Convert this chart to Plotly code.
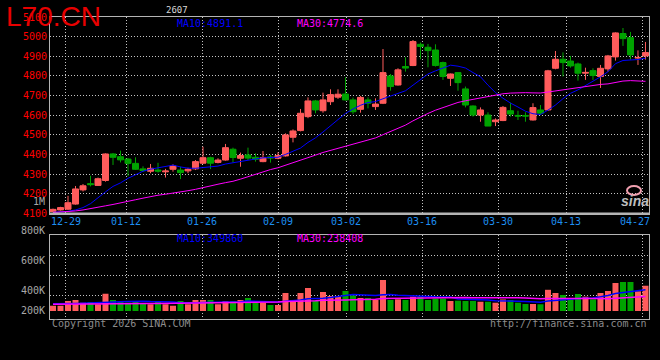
import plotly.graph_objects as go

# ---------------- data ----------------
dates = ["12-25", "12-26", "12-29", "12-30", "12-31",
         "01-05", "01-06", "01-07", "01-08", "01-09",
         "01-12", "01-13", "01-14", "01-15", "01-16",
         "01-19", "01-20", "01-21", "01-22", "01-23",
         "01-26", "01-27", "01-28", "01-29", "01-30",
         "02-02", "02-03", "02-04", "02-05", "02-06",
         "02-09", "02-10", "02-11", "02-12", "02-13",
         "02-24", "02-25", "02-26", "02-27",
         "03-02", "03-03", "03-04", "03-05", "03-06",
         "03-09", "03-10", "03-11", "03-12", "03-13",
         "03-16", "03-17", "03-18", "03-19", "03-20",
         "03-23", "03-24", "03-25", "03-26", "03-27",
         "03-30", "03-31", "04-01", "04-02", "04-03",
         "04-07", "04-08", "04-09", "04-10",
         "04-13", "04-14", "04-15", "04-16", "04-17",
         "04-20", "04-21", "04-22", "04-23", "04-24",
         "04-27", "04-28"]

opens = [4110, 4118, 4122, 4148, 4220, 4252, 4243, 4268, 4403, 4389,
         4377, 4355, 4327, 4315, 4321, 4312, 4325, 4321, 4317, 4327,
         4356, 4384, 4360, 4372, 4427, 4381, 4398, 4386, 4364, 4388,
         4381, 4393, 4488, 4522, 4593, 4673, 4623, 4669, 4692, 4708,
         4678, 4630, 4678, 4644, 4661, 4800, 4754, 4848, 4853, 4961,
         4946, 4932, 4868, 4788, 4817, 4734, 4647, 4601, 4601, 4567,
         4573, 4623, 4599, 4599, 4576, 4627, 4627, 4839, 4885, 4876,
         4861, 4814, 4827, 4797, 4836, 4897, 5016, 4995, 4891, 4902]
highs = [4125, 4134, 4190, 4240, 4250, 4292, 4283, 4406, 4408, 4420,
         4382, 4386, 4340, 4352, 4358, 4327, 4350, 4338, 4333, 4372,
         4440, 4389, 4381, 4454, 4435, 4410, 4435, 4406, 4418, 4398,
         4411, 4508, 4528, 4632, 4691, 4678, 4715, 4732, 4732, 4793,
         4690, 4698, 4691, 4686, 4937, 4810, 4839, 4895, 4983, 4970,
         4963, 4961, 4873, 4812, 4820, 4746, 4650, 4640, 4615, 4584,
         4647, 4664, 4623, 4615, 4661, 4652, 4831, 4927, 4920, 4902,
         4868, 4842, 4839, 4856, 4907, 5022, 5044, 5024, 4930, 4973]
lows = [4106, 4115, 4118, 4145, 4212, 4238, 4240, 4262, 4347, 4360,
        4290, 4322, 4312, 4305, 4308, 4283, 4313, 4275, 4305, 4321,
        4352, 4326, 4355, 4369, 4359, 4338, 4372, 4364, 4361, 4359,
        4376, 4390, 4462, 4518, 4585, 4610, 4613, 4652, 4683, 4675,
        4607, 4613, 4635, 4627, 4657, 4725, 4751, 4822, 4850, 4885,
        4844, 4848, 4780, 4749, 4725, 4640, 4593, 4567, 4545, 4545,
        4570, 4593, 4576, 4567, 4573, 4601, 4622, 4834, 4797, 4842,
        4776, 4780, 4780, 4739, 4822, 4878, 4953, 4883, 4856, 4883]
closes = [4121, 4130, 4155, 4225, 4241, 4247, 4277, 4403, 4386, 4373,
          4355, 4325, 4318, 4330, 4316, 4316, 4342, 4308, 4325, 4364,
          4384, 4356, 4372, 4435, 4385, 4395, 4382, 4376, 4384, 4383,
          4395, 4500, 4520, 4610, 4673, 4627, 4678, 4705, 4707, 4678,
          4618, 4691, 4661, 4657, 4817, 4746, 4831, 4840, 4975, 4950,
          4929, 4853, 4797, 4810, 4766, 4652, 4601, 4627, 4545, 4576,
          4640, 4606, 4596, 4596, 4639, 4610, 4826, 4885, 4868, 4851,
          4814, 4818, 4802, 4839, 4902, 5019, 4990, 4907, 4894, 4919]
volumes = [87, 87, 165, 182, 137, 149, 111, 285, 182, 149,
           137, 165, 124, 111, 149, 111, 87, 165, 111, 182,
           182, 182, 111, 165, 165, 182, 215, 137, 137, 99,
           99, 297, 182, 297, 380, 165, 314, 248, 248, 330,
           259, 215, 215, 182, 512, 182, 193, 182, 236, 248,
           182, 205, 205, 165, 170, 165, 165, 153, 153, 137,
           190, 180, 137, 116, 116, 111, 350, 297, 264, 193,
           281, 236, 193, 297, 330, 462, 479, 479, 325, 417]
volumes = [v * 1000 for v in volumes]

# moving-average values before a full window exists
ma10_head = [4106, 4108, 4111, 4118, 4130, 4150, 4182, 4210, 4238]
ma30_head = [4105, 4107, 4109, 4113, 4118, 4124, 4131, 4139, 4146, 4153,
             4162, 4170, 4178, 4186, 4193, 4198, 4203, 4209, 4216, 4223,
             4233, 4241, 4249, 4257, 4264, 4275, 4288, 4299, 4310]
vma10_head = [120000, 118000, 120000, 124000, 127000, 130000, 133000, 140000, 147000]
vma30_head = [110000, 110000, 111000, 112000, 113000, 114000, 115000, 116000, 117000, 118000,
              119000, 120000, 121000, 122000, 123000, 124000, 125000, 126000, 128000, 129000,
              131000, 132000, 134000, 136000, 138000, 140000, 142000, 144000, 146000]

date_ticks = ["12-29", "01-12", "01-26", "02-09", "03-02", "03-16", "03-30", "04-13", "04-27"]
price_ticks = [4100, 4200, 4300, 4400, 4500, 4600, 4700, 4800, 4900, 5000, 5100]
vol_tick_labels = ["1M", "800K", "600K", "400K", "200K"]

title_text = "L70.CN"
contract_text = "2607"
ma_price_text = ["MA10:4891.1", "MA30:4774.6"]
ma_vol_text = ["MA10:349860", "MA30:238408"]
footer_left = "Copyright 2026 SINA.COM"
footer_right = "http://finance.sina.com.cn"


def moving(vals, n, head):
    out = list(head)
    for i in range(len(head), len(vals)):
        out.append(sum(vals[i - n + 1:i + 1]) / n)
    return out


ma10 = moving(closes, 10, ma10_head)
ma30 = moving(closes, 30, ma30_head)
vma10 = moving(volumes, 10, vma10_head)
vma30 = moving(volumes, 30, vma30_head)

# ---------------- styling / layout ----------------
RED = "#ff5c5c"
GREEN = "#00a300"
GRID = "#c4c4c4"
FRAME = "#b4b4b4"
MONO = "DejaVu Sans Mono"

W, H = 660, 360
L, R, T, B = 50, 11, 17, 41
PH = H - T - B


def py(px):  # pixel row -> paper y
    return (H - B - px) / PH


def pxx(px):  # pixel column -> paper x
    return (px - L) / (W - L - R)


idx = list(range(len(dates)))
tick_idx = [dates.index(d) for d in date_ticks]
grid_pos = [i * 1.0115 - 0.33 for i in tick_idx]

vol_px = 16500.0  # volume per pixel
vol_base_px = 311
vol_range = [-(319 - vol_base_px) * vol_px, (vol_base_px - 234.7) * vol_px]
vol_grid = [(vol_base_px - p) * vol_px for p in (255.3, 275.3, 295.3)]

fig = go.Figure()
fig.add_trace(go.Candlestick(
    x=idx, open=opens, high=highs, low=lows, close=closes,
    increasing=dict(line=dict(color=RED, width=1), fillcolor=RED),
    decreasing=dict(line=dict(color=GREEN, width=1), fillcolor=GREEN),
    whiskerwidth=0, xaxis="x", yaxis="y", hoverinfo="skip"))
fig.add_trace(go.Scatter(x=idx, y=ma10, mode="lines", line=dict(color="#0000ff", width=1),
                         xaxis="x", yaxis="y", hoverinfo="skip"))
fig.add_trace(go.Scatter(x=idx, y=ma30, mode="lines", line=dict(color="#ff00ff", width=1),
                         xaxis="x", yaxis="y", hoverinfo="skip"))
bar_colors = [RED if c >= o else GREEN for o, c in zip(opens, closes)]
fig.add_trace(go.Bar(x=idx, y=volumes, marker=dict(color=bar_colors, line=dict(width=0)),
                     width=0.8, xaxis="x2", yaxis="y2", hoverinfo="skip"))
fig.add_trace(go.Scatter(x=idx, y=vma10, mode="lines", line=dict(color="#0000ff", width=1.5),
                         xaxis="x2", yaxis="y2", hoverinfo="skip"))
fig.add_trace(go.Scatter(x=idx, y=vma30, mode="lines", line=dict(color="#ff00ff", width=1.5),
                         xaxis="x2", yaxis="y2", hoverinfo="skip"))

axis_common = dict(showgrid=True, gridcolor=GRID, griddash="1px,2px", gridwidth=1,
                   zeroline=False, showline=True, linecolor=FRAME, linewidth=1,
                   mirror=True, ticks="", fixedrange=True)

price_dom = [py(213.5), 1]
vol_dom = [0, py(234.7)]

fig.update_layout(
    width=W, height=H, margin=dict(l=L, r=R, t=T, b=B, pad=0),
    paper_bgcolor="#000000", plot_bgcolor="#000000", showlegend=False,
    boxgap=0.2, boxgroupgap=0,
    xaxis=dict(domain=[0, 1], range=[-0.4, 79.47], anchor="y", tickvals=grid_pos,
               showticklabels=False, rangeslider=dict(visible=False), **axis_common),
    xaxis2=dict(domain=[0, 1], range=[-0.4, 79.47], anchor="y2", tickvals=grid_pos,
                showticklabels=False, **axis_common),
    yaxis=dict(domain=price_dom, range=[price_ticks[0], price_ticks[-1]], anchor="x",
               tickvals=price_ticks, ticktext=[str(v) for v in price_ticks],
               tickfont=dict(family=MONO, size=10, color="#ff0000"), **axis_common),
    yaxis2=dict(domain=vol_dom, range=vol_range, anchor="x2", tickvals=vol_grid,
                showticklabels=False, **axis_common),
    font=dict(family=MONO, size=10),
)

ann = []
# title & header texts
ann.append(dict(text=title_text, x=pxx(4), y=py(16), xref="paper", yref="paper",
                xanchor="left", yanchor="middle", showarrow=False,
                font=dict(family="Liberation Sans", size=28, color="#e80000")))
ann.append(dict(text=contract_text, x=pxx(176.5), y=py(9.5), xref="paper", yref="paper",
                xanchor="center", yanchor="middle", showarrow=False,
                font=dict(family=MONO, size=9, color="#d8d8d8")))
for txt, xpx, col in [(ma_price_text[0], 175, "#0000ff"), (ma_price_text[1], 295, "#ff00ff")]:
    ann.append(dict(text=txt, x=pxx(xpx), y=py(23.7), xref="paper", yref="paper",
                    xanchor="left", yanchor="middle", showarrow=False,
                    font=dict(family=MONO, size=10, color=col)))
for txt, xpx, col in [(ma_vol_text[0], 175, "#0000ff"), (ma_vol_text[1], 295, "#ff00ff")]:
    ann.append(dict(text=txt, x=pxx(xpx), y=py(238.4), xref="paper", yref="paper",
                    xanchor="left", yanchor="middle", showarrow=False,
                    font=dict(family=MONO, size=10, color=col)))
# volume scale labels
for txt, ypx in zip(vol_tick_labels, [201, 230.8, 260.8, 290.8, 310.5]):
    ann.append(dict(text=txt, x=pxx(47), y=py(ypx), xref="paper", yref="paper",
                    xanchor="right", yanchor="middle", showarrow=False,
                    font=dict(family=MONO, size=10, color="#a8a8a8")))
# date labels
for k, (txt, gp) in enumerate(zip(date_ticks, grid_pos)):
    ann.append(dict(text=txt, x=gp, y=py(221.3), xref="x", yref="paper",
                    xanchor="center", yanchor="middle", showarrow=False,
                    xshift=-7 if k == len(date_ticks) - 1 else 0,
                    font=dict(family=MONO, size=10, color="#1e8ff0")))
# footer
ann.append(dict(text=footer_left, x=0, y=py(323), xref="paper", yref="paper",
                xanchor="left", yanchor="middle", showarrow=False,
                font=dict(family=MONO, size=10, color="#8c8c8c")))
ann.append(dict(text=footer_right, x=1, y=py(323.7), xref="paper", yref="paper",
                xanchor="right", yanchor="middle", showarrow=False,
                font=dict(family=MONO, size=10, color="#8c8c8c")))
# sina watermark
ann.append(dict(text="<b><i>sina</i></b>", x=pxx(635), y=py(201), xref="paper", yref="paper",
                xanchor="center", yanchor="middle", showarrow=False,
                font=dict(family="Liberation Sans", size=14, color="#bdbdbd")))
fig.update_layout(annotations=ann)

fig.add_shape(type="line", xref="paper", yref="paper", x0=0, x1=1,
              y0=price_dom[0], y1=price_dom[0], line=dict(color=FRAME, width=2))
fig.add_shape(type="circle", xref="paper", yref="paper",
              x0=pxx(627), x1=pxx(641), y0=py(195), y1=py(186),
              line=dict(color="#f0a0b0", width=2))

fig.write_html("out.html", config={"displayModeBar": False, "staticPlot": True},
               post_script="document.body.style.margin='0';document.body.style.background='#000';")
